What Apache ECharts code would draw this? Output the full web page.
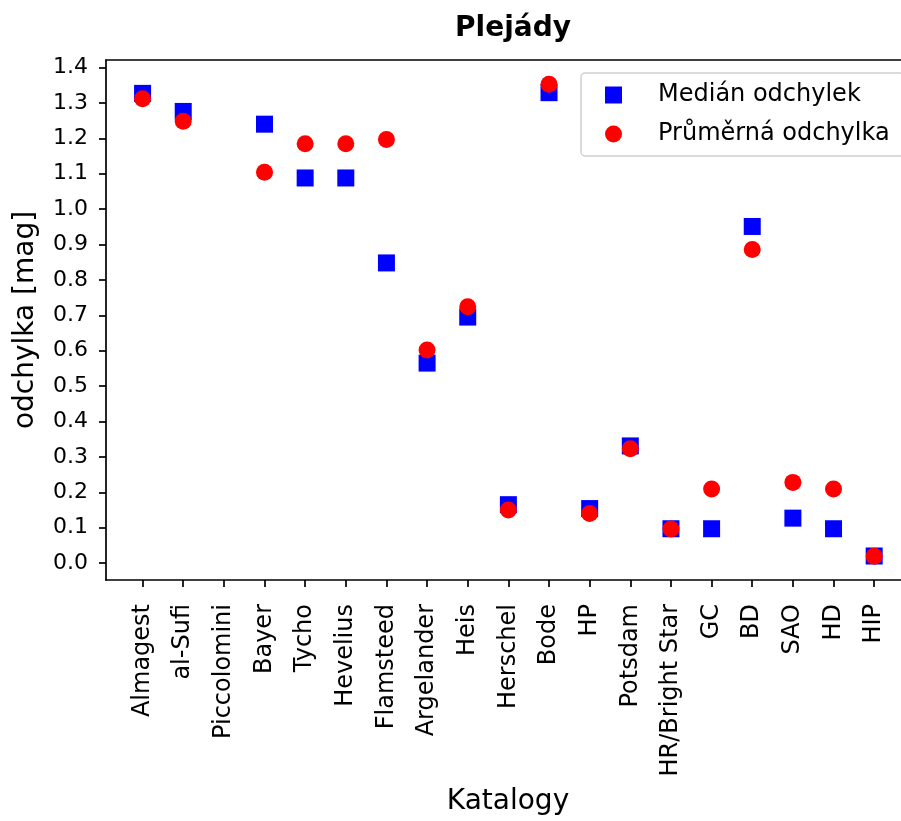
<!DOCTYPE html>
<html>
<head>
<meta charset="utf-8">
<script src="https://cdn.jsdelivr.net/npm/echarts@6/dist/echarts.min.js"></script>
<style>
  html, body { margin: 0; padding: 0; background: #fff; }
  #chart { width: 901px; height: 821px; }
</style>
</head>
<body>
<div id="chart"></div>
<script>
// Star catalogues, in chronological order
const catalogs = ['Almagest', 'al-Sufi', 'Piccolomini', 'Bayer', 'Tycho', 'Hevelius',
  'Flamsteed', 'Argelander', 'Heis', 'Herschel', 'Bode', 'HP', 'Potsdam',
  'HR/Bright Star', 'GC', 'BD', 'SAO', 'HD', 'HIP'];

// Median of magnitude deviations per catalogue (null = no data)
const medianDev = [1.327, 1.276, null, 1.240, 1.088, 1.088, 0.848, 0.565, 0.695, 0.165,
  1.329, 0.154, 0.331, 0.097, 0.097, 0.951, 0.127, 0.097, 0.020];

// Mean magnitude deviation per catalogue
const meanDev = [1.312, 1.248, null, 1.104, 1.185, 1.185, 1.197, 0.602, 0.724, 0.150,
  1.353, 0.140, 0.323, 0.096, 0.209, 0.886, 0.228, 0.209, 0.019];

const yTicks = [0.0, 0.1, 0.2, 0.3, 0.4, 0.5, 0.6, 0.7, 0.8, 0.9, 1.0, 1.1, 1.2, 1.3, 1.4];

const FONT = 'DejaVu Sans';

// Axis limits with a margin around the data (x padded by 0.9 of a category)
const X_MIN = -0.9, X_MAX = 18.66;
const Y_MIN = -0.0478, Y_MAX = 1.4213;

const xTickValues = catalogs.map((_, i) => i);
const toPoints = arr => arr.map((v, i) => (v === null ? null : [i, v])).filter(p => p);

const chart = echarts.init(document.getElementById('chart'), null, { renderer: 'canvas' });

const axisColor = { color: '#000', width: 1.7 };

chart.setOption({
  animation: false,
  backgroundColor: '#fff',
  title: {
    text: 'Plejády',
    left: 508,
    textAlign: 'center',
    top: 10,
    textStyle: { fontFamily: FONT, fontWeight: 'bold', fontSize: 28, color: '#000' }
  },
  legend: {
    left: 581,
    top: 73,
    orient: 'vertical',
    padding: [10, 14, 10, 24],
    itemGap: 15,
    itemWidth: 17,
    itemHeight: 17,
    backgroundColor: '#fff',
    borderColor: '#d0d0d0',
    borderWidth: 1.5,
    borderRadius: 4,
    textStyle: { fontFamily: FONT, fontSize: 24, color: '#000', lineHeight: 22, padding: [0, 0, 0, 31] },
    data: [
      { name: 'Medián odchylek', icon: 'rect' },
      { name: 'Průměrná odchylka', icon: 'circle' }
    ]
  },
  grid: { left: 106, right: 0, top: 60, bottom: 238 },
  xAxis: [
    {
      type: 'value',
      min: X_MIN,
      max: X_MAX,
      splitLine: { show: false },
      axisLine: { show: true, onZero: false, lineStyle: axisColor },
      axisTick: { show: true, length: 7, customValues: xTickValues, lineStyle: axisColor },
      axisLabel: {
        customValues: xTickValues,
        rotate: 90,
        margin: 24,
        fontFamily: FONT,
        fontSize: 24,
        color: '#000',
        formatter: v => catalogs[Math.round(v)] || ''
      },
      name: 'Katalogy',
      nameLocation: 'middle',
      nameGap: 208,
      nameTextStyle: { fontFamily: FONT, fontSize: 28, color: '#000', padding: [0, 0, 0, 9] }
    },
    {
      // top frame line
      type: 'value',
      position: 'top',
      min: X_MIN,
      max: X_MAX,
      splitLine: { show: false },
      axisLine: { show: true, onZero: false, lineStyle: axisColor },
      axisTick: { show: false },
      axisLabel: { show: false }
    }
  ],
  yAxis: {
    type: 'value',
    min: Y_MIN,
    max: Y_MAX,
    splitLine: { show: false },
    axisLine: { show: true, onZero: false, lineStyle: axisColor },
    axisTick: { show: true, length: 7, customValues: yTicks, lineStyle: axisColor },
    axisLabel: {
      customValues: yTicks,
      margin: 18,
      fontFamily: FONT,
      fontSize: 22,
      color: '#000',
      formatter: v => v.toFixed(1)
    },
    name: 'odchylka [mag]',
    nameLocation: 'middle',
    nameGap: 66,
    nameTextStyle: { fontFamily: FONT, fontSize: 28, color: '#000' }
  },
  series: [
    {
      name: 'Medián odchylek',
      type: 'scatter',
      symbol: 'rect',
      symbolSize: 17,
      clip: false,
      itemStyle: { color: '#0000ff', opacity: 1 },
      data: toPoints(medianDev),
      z: 2
    },
    {
      name: 'Průměrná odchylka',
      type: 'scatter',
      symbol: 'circle',
      symbolSize: 17,
      clip: false,
      itemStyle: { color: '#ff0000', opacity: 1 },
      data: toPoints(meanDev),
      z: 3
    }
  ]
});
</script>
</body>
</html>
